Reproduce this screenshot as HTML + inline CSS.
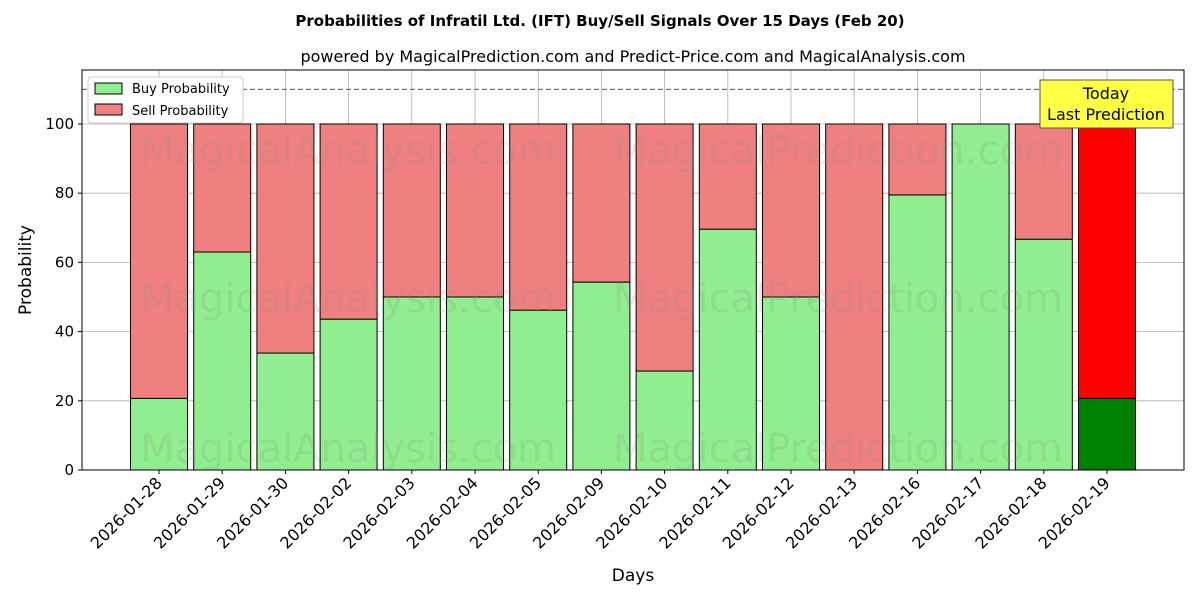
<!DOCTYPE html>
<html><head><meta charset="utf-8"><style>
body{margin:0;background:#fff}
svg{font-family:"DejaVu Sans","Liberation Sans",sans-serif}
</style></head><body>
<svg id="chart" width="1200" height="600" xmlns="http://www.w3.org/2000/svg">
<rect width="1200" height="600" fill="#fff"/>
<text x="600" y="26" text-anchor="middle" font-size="15" font-weight="bold">Probabilities of Infratil Ltd. (IFT) Buy/Sell Signals Over 15 Days (Feb 20)</text>
<text x="633" y="62" text-anchor="middle" font-size="16">powered by MagicalPrediction.com and Predict-Price.com and MagicalAnalysis.com</text>
<g id="grid"></g><g id="bars"></g><g id="wm"></g><g id="axes"></g>
<text x="633" y="581" text-anchor="middle" font-size="17">Days</text>
<text transform="translate(31,270) rotate(-90)" text-anchor="middle" font-size="17">Probability</text>
<g>
<rect x="88" y="77" width="155" height="46" fill="#fff" stroke="#ccc" rx="3"/>
<rect x="95" y="83" width="27" height="11" fill="#90ee90" stroke="#000"/>
<text x="132" y="93" font-size="13">Buy Probability</text>
<rect x="95" y="104" width="27" height="11" fill="#f08080" stroke="#000"/>
<text x="132" y="115" font-size="13">Sell Probability</text>
</g>
<g>
<rect x="1040" y="80" width="133" height="48" fill="#ffff44" stroke="#555"/>
<text x="1106" y="99" text-anchor="middle" font-size="16">Today</text>
<text x="1106" y="120" text-anchor="middle" font-size="16">Last Prediction</text>
</g>
</svg>
<script>
const days=["2026-01-28","2026-01-29","2026-01-30","2026-02-02","2026-02-03","2026-02-04","2026-02-05","2026-02-09","2026-02-10","2026-02-11","2026-02-12","2026-02-13","2026-02-16","2026-02-17","2026-02-18","2026-02-19"];
const buy=[20.7,63,33.8,43.6,50,50,46.2,54.3,28.6,69.6,50,0,79.5,100,66.7,20.7];
const yTicks=[0,20,40,60,80,100];
const L=82,R=1184,T=70,B=470,ymax=115.6;
const xs=i=>159+i*63.2, ys=v=>B-v*(B-T)/ymax;
const NS="http://www.w3.org/2000/svg";
function mk(p,t,a){const e=document.createElementNS(NS,t);for(const k in a)e.setAttribute(k,a[k]);document.getElementById(p).appendChild(e);return e;}
yTicks.forEach(v=>{const l=mk('grid','line',{x1:L,x2:R,y1:ys(v),y2:ys(v),stroke:'#b0b0b0','stroke-width':0.8});

const t=mk('axes','text',{x:L-8,y:ys(v)+5,'text-anchor':'end','font-size':15});t.textContent=v;

mk('axes','line',{x1:L-4,x2:L,y1:ys(v),y2:ys(v),stroke:'#000'});});
days.forEach((d,i)=>{const l=mk('grid','line',{x1:xs(i),x2:xs(i),y1:T,y2:B,stroke:'#b0b0b0','stroke-width':0.8});

const last=i===days.length-1,w=57,x=xs(i)-w/2;
const b=mk('bars','rect',{x:x,y:ys(buy[i]),width:w,height:ys(0)-ys(buy[i]),fill:last?'#008000':'#90ee90',stroke:'#000','stroke-width':1});

const s=mk('bars','rect',{x:x,y:ys(100),width:w,height:ys(buy[i])-ys(100),fill:last?'#ff0000':'#f08080',stroke:'#000','stroke-width':1});

mk('axes','line',{x1:xs(i),x2:xs(i),y1:B,y2:B+4,stroke:'#000'});
const t=mk('axes','text',{transform:`translate(${xs(i)+4},${B+14}) rotate(-45)`,'text-anchor':'end','font-size':16});t.textContent=d;
});
const dl=mk('axes','line',{x1:L,x2:R,y1:ys(110),y2:ys(110),stroke:'#777','stroke-dasharray':'5,3','stroke-width':1.2});

[150,298,448].forEach(y=>{[["MagicalAnalysis.com",348],["MagicalPrediction.com",838]].forEach(([s,x])=>{
const t=mk('wm','text',{x:x,y:y+14,'text-anchor':'middle','font-size':40,fill:'#888','fill-opacity':0.18});t.textContent=s;
});});
const f=mk('axes','rect',{x:L,y:T,width:R-L,height:B-T,fill:'none',stroke:'#000','stroke-width':1});

</script>
</body></html>
